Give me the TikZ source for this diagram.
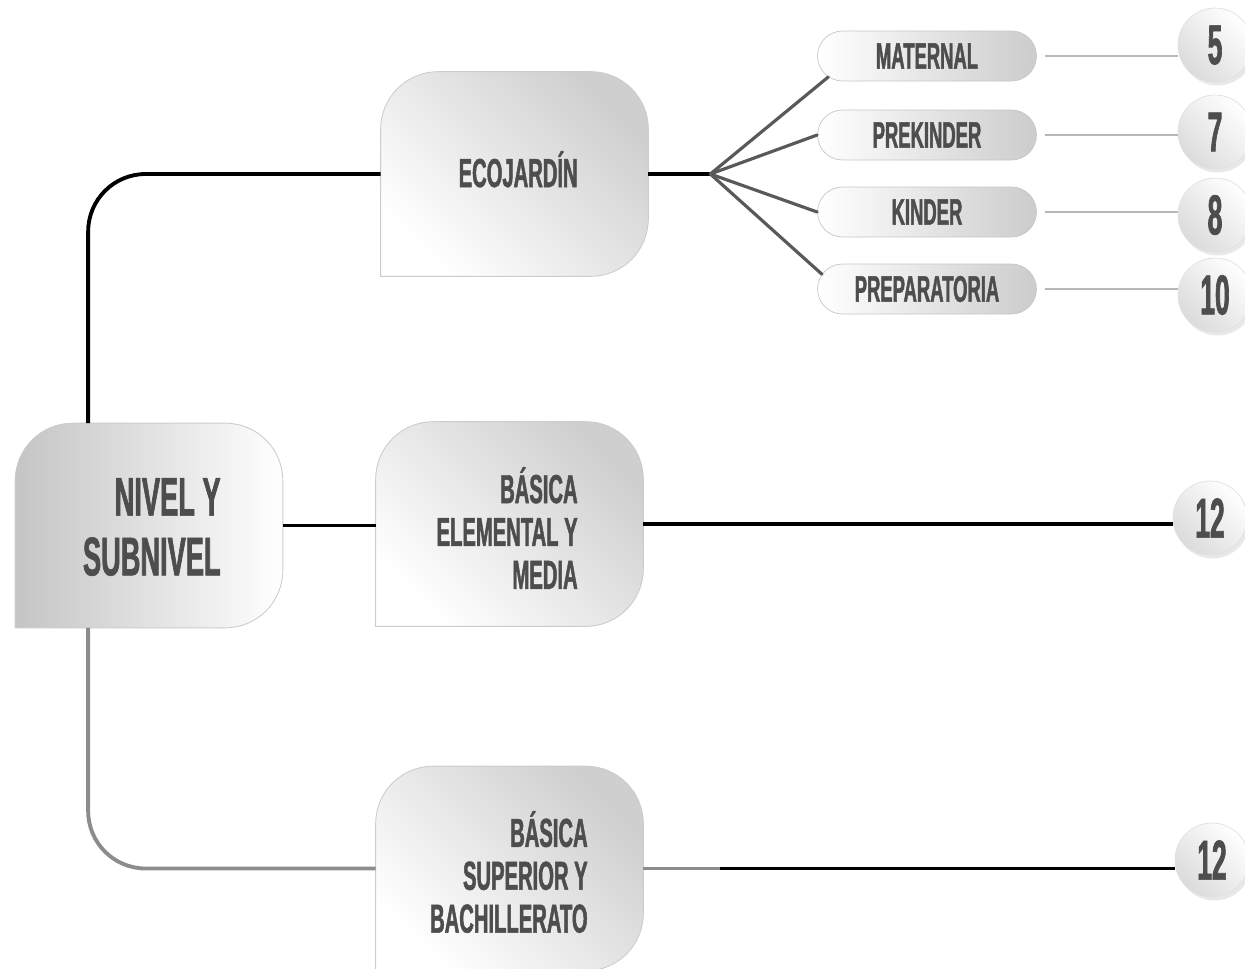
\documentclass[tikz,border=0pt]{standalone}
\usepackage{fontspec}
\setmainfont{Liberation Sans}[FakeStretch=0.5, FakeBold=1.2]
\newfontfamily\numfont{Liberation Sans}[FakeStretch=0.47, FakeBold=1.2]
\usetikzlibrary{shapes.misc, shadows}
\definecolor{inkgray}{HTML}{4D4D4D}

\begin{document}
\begin{tikzpicture}[x=0.02cm, y=-0.02cm]
    \tikzstyle{levelbox}=[minimum width=5.34cm, minimum height=4.08cm, inner sep=0pt]
    \tikzstyle{levelfill}=[draw=black!20, line width=0.5pt, top color=black!19, bottom color=white, shading angle=-45]
    \tikzstyle{rootfill}=[draw=black!20, line width=0.5pt, left color=black!23, right color=white]
    \tikzstyle{boxlabel}=[inner sep=0pt, align=right, text=inkgray, font=\bfseries\fontsize{23}{24.4}\selectfont]
    \tikzstyle{pill}=[rounded rectangle, minimum width=4.38cm, minimum height=1cm, inner sep=0pt, draw=black!22, left color=white, right color=black!20, text=inkgray, font=\bfseries\fontsize{21}{22}\selectfont]
    \tikzstyle{numcircle}=[circle, minimum size=1.48cm, inner sep=0pt, draw=black!12, top color=white, bottom color=black!14, shading angle=-45, drop shadow={opacity=0.18, shadow xshift=0.05cm, shadow yshift=-0.07cm}, text=inkgray, font=\numfont\bfseries\fontsize{32}{32}\selectfont]
    \tikzstyle{mainline}=[draw=black, line width=2.2pt]
    \tikzstyle{grayline}=[draw=black!45, line width=2.2pt]
    \tikzstyle{fanline}=[draw=black!65, line width=1.8pt, line cap=round]
    \tikzstyle{faintline}=[draw=black!28, line width=1.3pt, shorten <=0.16cm]

    \path[use as bounding box, clip] (0,0) rectangle (1245,968);

    % Draw the level boxes
    \node[levelbox] (nivel) at (149,525.5) {};
    \node[levelbox] (eco) at (514.5,174) {};
    \node[levelbox] (elem) at (509.5,524) {};
    \node[levelbox] (sup) at (509.5,868.5) {};

    \path[rootfill] (nivel.south) -- (nivel.south west) -- (nivel.west) [rounded corners=1.15cm]
        -- (nivel.north west) -- (nivel.north east) -- (nivel.south east) -- cycle;
    \foreach \b in {eco,elem,sup}
        \path[levelfill] (\b.south) -- (\b.south west) -- (\b.west) [rounded corners=1.15cm]
            -- (\b.north west) -- (\b.north east) -- (\b.south east) -- cycle;

    \node[boxlabel, anchor=east, font=\bfseries\fontsize{31}{34}\selectfont] (nivellabel) at (221,527) {NIVEL Y\\SUBNIVEL};
    \node[boxlabel, anchor=base east] (ecolabel) at (578,187) {ECOJARDÍN};
    \node[boxlabel, anchor=east] (elemlabel) at (578,528) {BÁSICA\\ELEMENTAL Y\\MEDIA};
    \node[boxlabel, anchor=east] (suplabel) at (588,872) {BÁSICA\\SUPERIOR Y\\BACHILLERATO};

    % Draw the sublevel pills and the year circles
    \foreach \name/\txt/\y in {mat/MATERNAL/56, pre/PREKINDER/135, kin/KINDER/212, prep/PREPARATORIA/289}
        \node[pill] (\name) at (927,\y) {\txt};

    \foreach \name/\num/\x/\y in {c5/5/1215/45, c7/7/1215/132, c8/8/1215/215, c10/10/1215/295, c12a/12/1210/518, c12b/12/1212/860}
        \node[numcircle] (\name) at (\x,\y) {\num};

    % Connect everything
    \draw[mainline, rounded corners=1.15cm] ([xshift=1.46cm]nivel.north west) |- (eco.west);
    \draw[grayline, rounded corners=1.15cm] ([xshift=1.46cm]nivel.south west) |- (sup.west);
    \draw[mainline] (nivel.east) -- (nivel.east -| elem.west);

    \draw[mainline] (eco.east) -- ++(62,0) coordinate (fan);
    \foreach \name/\a in {mat/192, pre/180, kin/180, prep/172}
        \draw[fanline] (fan) -- (\name.\a);

    \foreach \name/\c in {mat/c5, pre/c7, kin/c8, prep/c10}
        \draw[faintline] (\name.east) -- (\name.east -| \c.west);

    \draw[mainline, line width=1.8pt] (elem.east) -- (elem.east -| c12a.west);
    \draw[grayline] (sup.east) -- ++(77,0) coordinate (supmid);
    \draw[mainline] (supmid) -- (supmid -| c12b.west);
\end{tikzpicture}
\end{document}
